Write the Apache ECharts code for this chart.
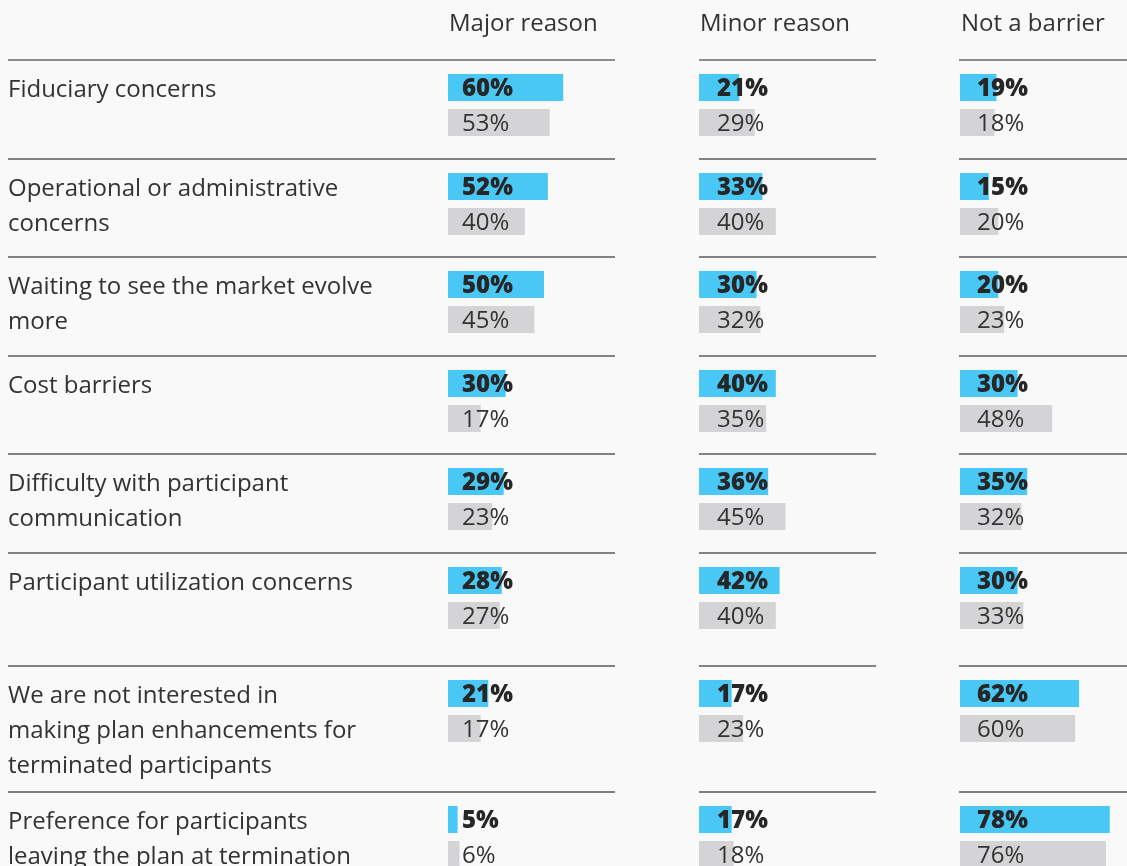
<!DOCTYPE html>
<title>barriers</title>
<style>
body {
    margin: 0;
    background: #f9f9f9;
    overflow: hidden;
}
#echart {
    height: 890px;
    width: 1127px;
}
</style>
<div id='echart'></div>
<script src='https://cdn.jsdelivr.net/npm/echarts@6/dist/echarts.min.js'></script>
<script>
let headers = ['Major reason', 'Minor reason', 'Not a barrier']
let reasons = [
    'Fiduciary concerns',
    'Operational or administrative\nconcerns',
    'Waiting to see the market evolve\nmore',
    'Cost barriers',
    'Difficulty with participant\ncommunication',
    'Participant utilization concerns',
    'We are not interested in\nmaking plan enhancements for\nterminated participants',
    'Preference for participants\nleaving the plan at termination',
]
let major = [60, 52, 50, 30, 29, 28, 21, 5]
let major_prior = [53, 40, 45, 17, 23, 27, 17, 6]
let minor = [21, 33, 30, 40, 36, 42, 17, 17]
let minor_prior = [29, 40, 32, 35, 45, 40, 23, 18]
let not_barrier = [19, 15, 20, 30, 35, 30, 62, 78]
let not_barrier_prior = [18, 20, 23, 48, 32, 33, 60, 76]

let BLUE = '#4ac8f5'
let GRAY = '#d4d4d6'
let TEXT = '#333'
let FONT = 'Open Sans'
let ROW_Y = [60, 159, 257, 356, 454, 553, 666, 792]
let COL_X = [448, 699, 960]
let LABEL_DIST = [14, 18, 17]
let LINES = [[8, 615], [699, 876], [959, 1127]]
// 1.92px per percent; axis max 85 keeps the last column inside the page
let AXIS_MAX = 85
let PX_PER_PCT = 1.92

let columns = [[major, major_prior], [minor, minor_prior], [not_barrier, not_barrier_prior]]
let echart = echarts.init(document.querySelector('#echart'))
let grid = [], xAxis = [], yAxis = [], series = [], graphic = []

headers.forEach(function (h, c) {
    graphic.push({type: 'text', x: COL_X[c] + 1, y: 24, style: {text: h, font: `24px "${FONT}"`, fill: TEXT, verticalAlign: 'middle'}})
})

reasons.forEach(function (reason, r) {
    let top = ROW_Y[r]
    for (let [x1, x2] of LINES)
        graphic.push({type: 'line', shape: {x1, y1: top, x2, y2: top},
            style: {stroke: r == 0 ? '#8c8c8c' : '#5a5a5a', lineWidth: r == 0 ? 2 : 1.5}})
    graphic.push({type: 'text', x: 8, y: top + 13, style: {text: reason, font: `24px "${FONT}"`, fill: TEXT, lineHeight: 35, verticalAlign: 'top'}})
    columns.forEach(function ([cur, prior], c) {
        let i = grid.length
        grid.push({left: COL_X[c], top: top + 10, width: AXIS_MAX * PX_PER_PCT, height: 70})
        xAxis.push({gridIndex: i, type: 'value', min: 0, max: AXIS_MAX, show: false})
        yAxis.push({gridIndex: i, type: 'category', data: ['current', 'prior'], inverse: true, show: false})
        series.push({
            type: 'bar', xAxisIndex: i, yAxisIndex: i, barWidth: 27, silent: true,
            label: {show: true, position: 'insideLeft', distance: LABEL_DIST[c], offset: [0, 2], formatter: '{c}%',
                fontFamily: FONT, fontSize: 24, color: TEXT},
            data: [
                {value: cur[r], itemStyle: {color: BLUE}, label: {fontWeight: 800, color: '#262626'}},
                {value: prior[r], itemStyle: {color: GRAY}},
            ],
        })
    })
})

echart.setOption({
    backgroundColor: '#f9f9f9',
    animation: false,
    grid, xAxis, yAxis, series, graphic,
})
addEventListener('resize', function (event) {echart.resize()})
</script>
